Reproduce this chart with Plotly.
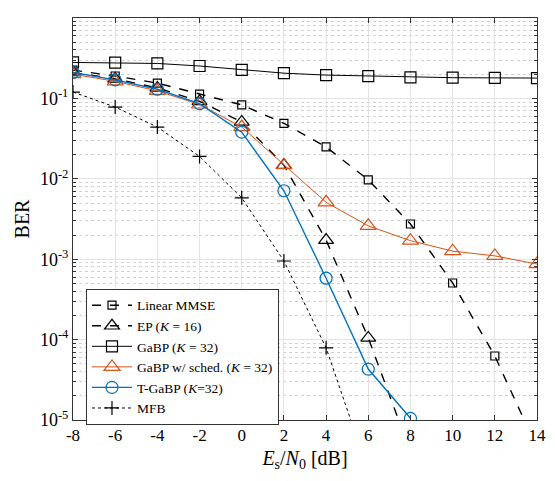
import plotly.graph_objects as go

snr = [-8, -6, -4, -2, 0, 2, 4, 6, 8, 10, 12, 14]
x_ticklabels = ["-8", "-6", "-4", "-2", "0", "2", "4", "6", "8", "10", "12", "14"]

ber_lmmse = [0.225, 0.19, 0.155, 0.113, 0.083, 0.049, 0.0249, 0.0097, 0.00274, 5.06e-4, 6.25e-5, 4.5e-6]
ber_ep = [0.21, 0.175, 0.135, 0.092, 0.051, 0.0148, 0.00173, 1.05e-4, 4.0e-6]
ber_gabp = [0.28, 0.278, 0.272, 0.253, 0.226, 0.206, 0.195, 0.189, 0.183, 0.181, 0.18, 0.179]
ber_sched = [0.2, 0.163, 0.124, 0.084, 0.044, 0.0148, 0.0051, 0.0026, 0.0017, 0.00126, 0.0011, 8.7e-4]
ber_tgabp = [0.21, 0.17, 0.13, 0.086, 0.038, 0.0071, 5.8e-4, 4.3e-5, 1.05e-5]
ber_mfb = [0.12, 0.078, 0.044, 0.019, 0.0058, 9.5e-4, 7.9e-5, 2.3e-6]

names = ["Linear MMSE", "EP (<i>K</i> = 16)", "GaBP (<i>K</i> = 32)",
         "GaBP w/ sched. (<i>K</i> = 32)", "T-GaBP (<i>K</i>=32)", "MFB"]

FONT = "Liberation Serif, Times New Roman, serif"
ORANGE = "#D95319"
BLUE = "#0072BD"

fig = go.Figure()

def add(y, name, color, dash, width, symbol, size, mlw=1.2):
    fig.add_trace(go.Scatter(
        x=snr[:len(y)], y=y, name=name, mode="lines+markers",
        line=dict(color=color, dash=dash, width=width),
        marker=dict(symbol=symbol, size=size, color=color,
                    line=dict(color=color, width=mlw)),
    ))

add(ber_lmmse, names[0], "black", "dash", 1.4, "square-open", 8)
add(ber_ep, names[1], "black", "dash", 1.4, "triangle-up-open", 13)
add(ber_gabp, names[2], "black", "solid", 1.0, "square-open", 11)
add(ber_sched, names[3], ORANGE, "solid", 1.0, "triangle-up-open", 14)
add(ber_tgabp, names[4], BLUE, "solid", 1.4, "circle-open", 12)
add(ber_mfb, names[5], "black", "dot", 1.0, "cross-thin-open", 10)

# page body has an 8px margin: size the figure to fit the 555x481 window
fig.update_layout(
    width=539, height=465,
    margin=dict(l=65, r=10, t=10, b=53, autoexpand=False),
    paper_bgcolor="white", plot_bgcolor="white",
    font=dict(family=FONT, size=16, color="black"),
    showlegend=True,
    legend=dict(x=0.028, y=0.326, xanchor="left", yanchor="top",
                bordercolor="#333333", borderwidth=1, bgcolor="white",
                font=dict(family=FONT, size=13.5), itemwidth=40,
                tracegroupgap=0, itemsizing="trace"),
)

fig.update_xaxes(
    range=[-8, 14], tickmode="array", tickvals=snr, ticktext=x_ticklabels,
    ticks="inside", ticklen=5, tickcolor="#333333", automargin=False,
    ticklabeloverflow="allow",
    showline=True, linecolor="#333333", linewidth=1, mirror="ticks",
    showgrid=True, gridcolor="#e3e3e3", gridwidth=1, zeroline=False,
    tickfont=dict(size=17),
    title=dict(text="<i>E</i><sub>s</sub>/<i>N</i><sub>0</sub> [dB]",
               font=dict(size=20), standoff=6),
)

ytv = [1, 0.1, 0.01, 0.001, 1e-4, 1e-5]
ytt = ["10<sup>0</sup>", "10<sup>-1</sup>", "10<sup>-2</sup>",
       "10<sup>-3</sup>", "10<sup>-4</sup>", "10<sup>-5</sup>"]
fig.update_yaxes(
    type="log", range=[-5, 0], tickmode="array", tickvals=ytv, ticktext=ytt,
    ticks="inside", ticklen=5, tickcolor="#333333", automargin=False,
    showline=True, linecolor="#333333", linewidth=1, mirror="ticks",
    showgrid=True, gridcolor="#e3e3e3", gridwidth=1, zeroline=False,
    tickfont=dict(size=18),
    minor=dict(ticks="inside", ticklen=3, tickcolor="#333333", showgrid=True,
               gridcolor="#d0d0d0", griddash="dot", gridwidth=1,
               tickvals=[m * 10 ** e for e in range(-5, 0) for m in range(2, 10)]),
    title=dict(text="BER", font=dict(size=20), standoff=4),
)

fig.write_html("out.html")
